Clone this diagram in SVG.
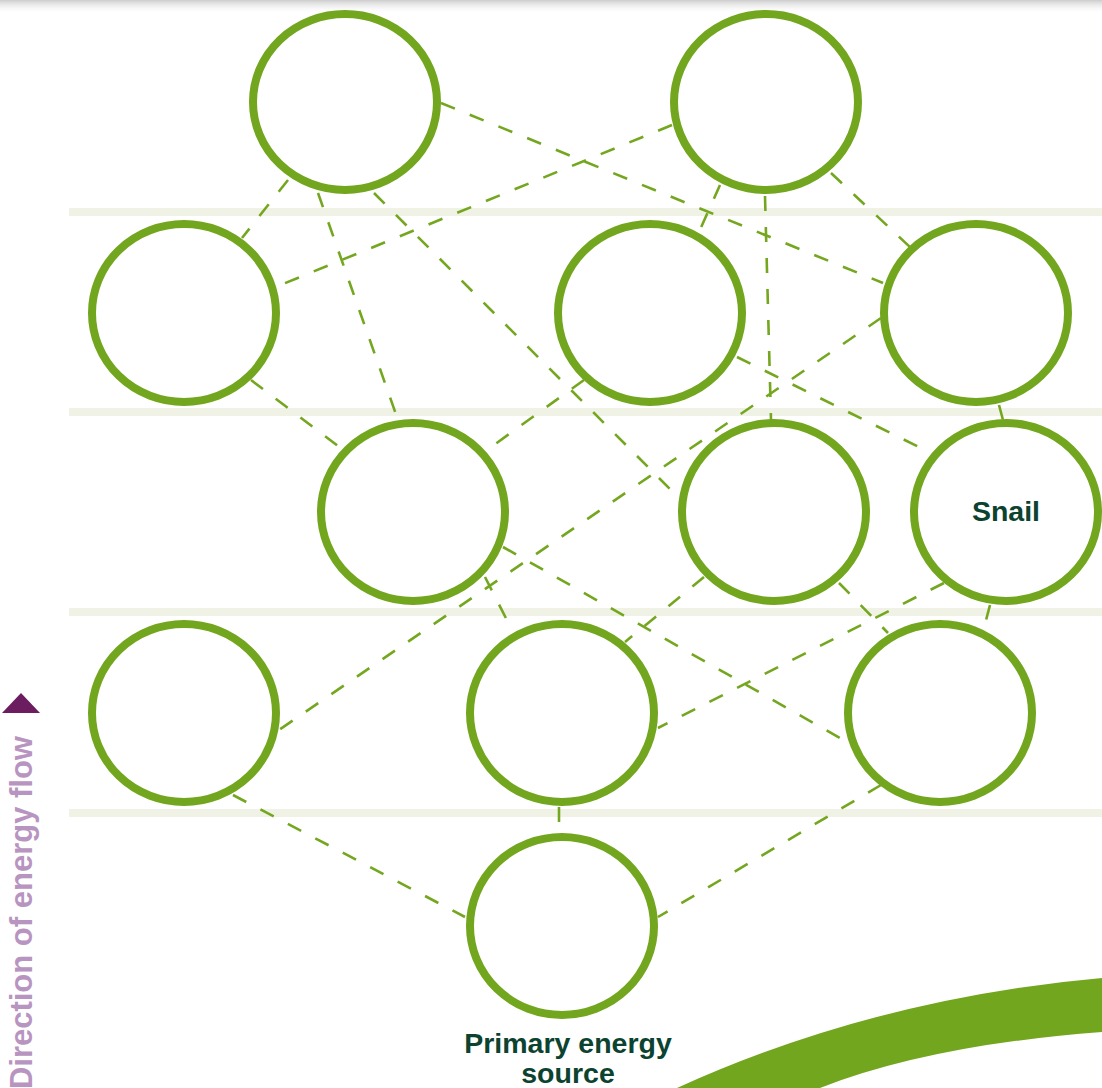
<svg xmlns="http://www.w3.org/2000/svg" width="1102" height="1088" viewBox="0 0 1102 1088">
  <defs>
    <linearGradient id="topShade" x1="0" y1="0" x2="0" y2="1">
      <stop offset="0" stop-color="#cdcdcd"/>
      <stop offset="1" stop-color="#ffffff" stop-opacity="0"/>
    </linearGradient>
    <style>
      .band { fill: #eff2e4; }
      .link { stroke: #74a71f; stroke-width: 2.6; stroke-dasharray: 15 16; fill: none; }
      .node { fill: #ffffff; stroke: #72a61e; stroke-width: 8; }
      .label { font-family: "Liberation Sans", Arial, sans-serif; font-weight: bold; font-size: 28.5px; fill: #0c4330; text-anchor: middle; }
      .axis { font-family: "Liberation Sans", Arial, sans-serif; font-weight: bold; font-size: 31px; fill: #b895c0; text-anchor: end; }
    </style>
  </defs>
  <rect x="0" y="0" width="1102" height="1088" fill="#ffffff"/>
  <rect x="0" y="0" width="1102" height="14" fill="url(#topShade)"/>

  <g id="bands">
    <rect class="band" x="69" y="208" width="1033" height="8"/>
    <rect class="band" x="69" y="408" width="1033" height="8"/>
    <rect class="band" x="69" y="608" width="1033" height="8"/>
    <rect class="band" x="69" y="809" width="1033" height="8"/>
  </g>

  <g id="swoosh">
    <path d="M677,1088 Q875,998 1102,978 L1102,1032 Q930,1045 820,1088 Z" fill="#72a61e"/>
  </g>

  <g id="connectors">
    <line class="link" x1="441" y1="103" x2="883" y2="283"/>
    <line class="link" x1="672" y1="125" x2="278" y2="286"/>
    <line class="link" x1="288" y1="180" x2="242" y2="238"/>
    <line class="link" x1="318" y1="193" x2="398" y2="420"/>
    <line class="link" x1="374" y1="193" x2="679" y2="498"/>
    <line class="link" x1="720" y1="185" x2="699" y2="232"/>
    <line class="link" x1="765" y1="196" x2="771" y2="420"/>
    <line class="link" x1="831" y1="173" x2="910" y2="247"/>
    <line class="link" x1="251" y1="380" x2="342" y2="449"/>
    <line class="link" x1="584" y1="380" x2="487" y2="450"/>
    <line class="link" x1="737" y1="357" x2="931" y2="453"/>
    <line class="link" x1="881" y1="318" x2="279" y2="730"/>
    <line class="link" x1="999" y1="405" x2="1003" y2="420"/>
    <line class="link" x1="485" y1="577" x2="513" y2="632"/>
    <line class="link" x1="503" y1="547" x2="847" y2="742"/>
    <line class="link" x1="704" y1="577" x2="625" y2="642"/>
    <line class="link" x1="839" y1="583" x2="888" y2="633"/>
    <line class="link" x1="944" y1="583" x2="658" y2="728"/>
    <line class="link" x1="990" y1="605" x2="984" y2="628"/>
    <line class="link" x1="233" y1="795" x2="465" y2="917"/>
    <line class="link" x1="559" y1="807" x2="559" y2="834"/>
    <line class="link" x1="881" y1="785" x2="658" y2="917"/>
  </g>

  <g id="node-r1a"><ellipse class="node" cx="345" cy="102" rx="92" ry="88"/></g>
  <g id="node-r1b"><ellipse class="node" cx="766" cy="102" rx="92" ry="88"/></g>
  <g id="node-r2a"><ellipse class="node" cx="184" cy="313" rx="92" ry="89"/></g>
  <g id="node-r2b"><ellipse class="node" cx="650" cy="313" rx="92" ry="89"/></g>
  <g id="node-r2c"><ellipse class="node" cx="976" cy="313" rx="92" ry="89"/></g>
  <g id="node-r3a"><ellipse class="node" cx="413" cy="512" rx="92" ry="89"/></g>
  <g id="node-r3b"><ellipse class="node" cx="774" cy="512" rx="92" ry="89"/></g>
  <g id="node-snail">
    <ellipse class="node" cx="1006" cy="512" rx="92" ry="89"/>
    <text class="label" x="1006" y="521">Snail</text>
  </g>
  <g id="node-r4a"><ellipse class="node" cx="184" cy="713" rx="92" ry="89"/></g>
  <g id="node-r4b"><ellipse class="node" cx="562" cy="713" rx="92" ry="89"/></g>
  <g id="node-r4c"><ellipse class="node" cx="940" cy="713" rx="92" ry="89"/></g>
  <g id="node-primary">
    <ellipse class="node" cx="562" cy="926" rx="92" ry="89"/>
    <text class="label" x="568" y="1053">Primary energy</text>
    <text class="label" x="568" y="1083">source</text>
  </g>

  <g id="axis">
    <polygon points="2,713 21,693 40,713" fill="#6c1d60"/>
    <text class="axis" transform="translate(32,736) rotate(-90)">Direction of energy flow</text>
  </g>
</svg>
